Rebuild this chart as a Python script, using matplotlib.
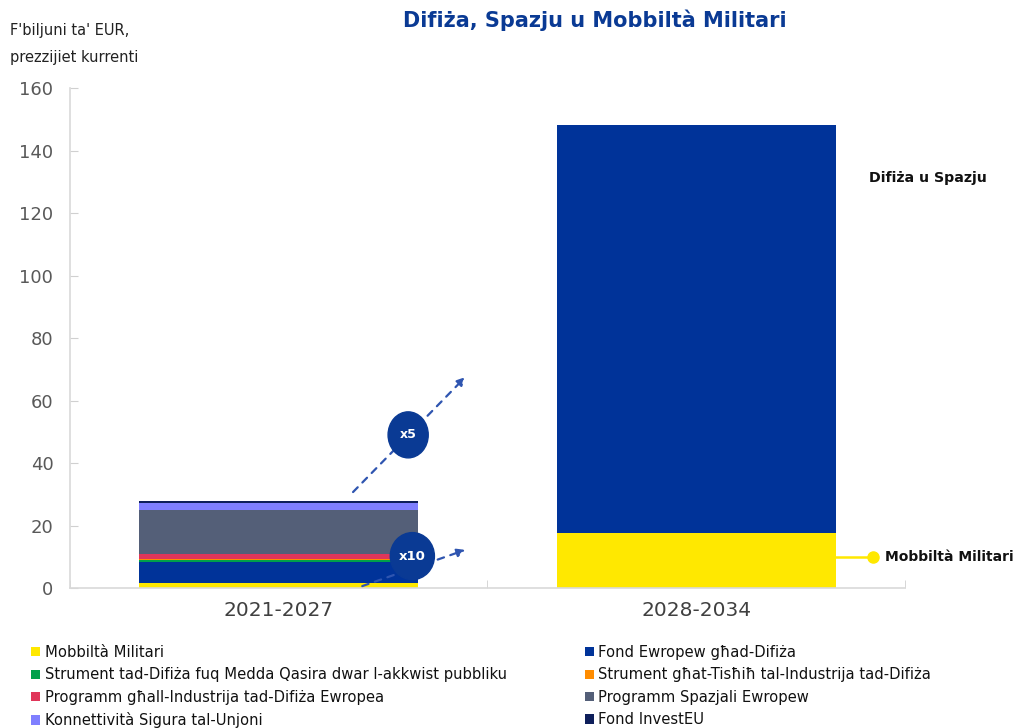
import matplotlib
matplotlib.use("Agg")
import matplotlib.pyplot as plt
from matplotlib.patches import Patch, Ellipse
import numpy as np

# ---------------- data ----------------
periods = ["2021-2027", "2028-2034"]
series_names = [
    "Mobbiltà Militari",
    "Fond Ewropew għad-Difiża",
    "Strument tad-Difiża fuq Medda Qasira dwar l-akkwist pubbliku",
    "Strument għat-Tisħiħ tal-Industrija tad-Difiża",
    "Programm għall-Industrija tad-Difiża Ewropea",
    "Programm Spazjali Ewropew",
    "Konnettività Sigura tal-Unjoni",
    "Fond InvestEU",
]
mobbilta = [1.7, 17.6]
fond_ewropew = [6.8, 130.7]
strument_qasira = [0.5, 0.0]
strument_tishih = [0.5, 0.0]
programm_industrija = [1.4, 0.0]
programm_spazjali = [14.3, 0.0]
konnettivita = [2.0, 0.0]
fond_investeu = [0.6, 0.0]
series_values = [mobbilta, fond_ewropew, strument_qasira, strument_tishih,
                 programm_industrija, programm_spazjali, konnettivita, fond_investeu]
colors = ["#FFE800", "#003399", "#00A04B", "#FF8C00", "#E0365A",
          "#545F78", "#7F7FFF", "#0E1F5B"]
yticks = [0, 20, 40, 60, 80, 100, 120, 140, 160]

# ---------------- figure ----------------
fig = plt.figure(figsize=(10.16, 7.28), dpi=100)
ax = fig.add_axes([0.0689, 0.1919, 0.8218, 0.6868])

x = np.arange(len(periods))
bottom = np.zeros(len(periods))
for vals, col in zip(series_values, colors):
    ax.bar(x, vals, width=0.668, bottom=bottom, color=col, linewidth=0)
    bottom += np.array(vals)

ax.set_xlim(-0.5, 1.5)
ax.set_ylim(0, 160)
ax.set_yticks(yticks)
ax.set_xticks(x)
ax.set_xticklabels(periods, fontsize=14.5, color="#404040")
ax.set_xticks([-0.5, 0.5, 1.5], minor=True)
ax.tick_params(axis="x", which="major", length=0, pad=9)
ax.tick_params(axis="x", which="minor", direction="in", length=6, color="#D0D0D0")
ax.tick_params(axis="y", direction="in", length=6, color="#D0D0D0",
               labelsize=13, labelcolor="#595959", pad=12)
for s in ["top", "right"]:
    ax.spines[s].set_visible(False)
for s in ["left", "bottom"]:
    ax.spines[s].set_color("#D9D9D9")
    ax.spines[s].set_linewidth(1.2)

# ---------------- annotations ----------------
arrow_col = "#2F55B0"
circ_col = "#0A3A94"
ax.annotate("", xy=(0.447, 67.6), xytext=(0.178, 30.8),
            arrowprops=dict(arrowstyle="-|>", color=arrow_col, lw=1.6,
                            linestyle=(0, (3, 3)), mutation_scale=12,
                            shrinkA=0, shrinkB=0))
ax.annotate("", xy=(0.447, 12.3), xytext=(0.2, 0.7),
            arrowprops=dict(arrowstyle="-|>", color=arrow_col, lw=1.6,
                            linestyle=(0, (3, 3)), mutation_scale=12,
                            shrinkA=0, shrinkB=0))
px_x = 1 / 416.0
px_y = 1 / 3.125
ax.add_patch(Ellipse((0.31, 49.1), 40 * px_x, 46 * px_y, color=circ_col, zorder=5))
ax.text(0.31, 49.1, "x5", ha="center", va="center", color="white",
        fontsize=9, fontweight="bold", zorder=6)
ax.add_patch(Ellipse((0.32, 10.3), 44 * px_x, 47 * px_y, color=circ_col, zorder=5))
ax.text(0.32, 10.3, "x10", ha="center", va="center", color="white",
        fontsize=9.5, fontweight="bold", zorder=6)

ax.text(1.413, 131.3, "Difiża u Spazju", ha="left", va="center",
        fontsize=10.2, fontweight="bold", color="#111111")
ax.plot([1.334, 1.423], [10.0, 10.0], color="#FFE800", lw=1.8, clip_on=False)
ax.plot([1.423], [10.0], "o", color="#FFE800", ms=8, clip_on=False)
ax.text(1.452, 10.0, "Mobbiltà Militari", ha="left", va="center",
        fontsize=10.0, fontweight="bold", color="#111111", clip_on=False)

# ---------------- titles ----------------
fig.text(0.5856, 0.972, "Difiża, Spazju u Mobbiltà Militari", ha="center",
         va="center", fontsize=15, fontweight="bold", color="#0A3A94")
fig.text(0.010, 0.968, "F'biljuni ta' EUR,\nprezzijiet kurrenti", ha="left",
         va="top", fontsize=10.5, color="#222222", linespacing=1.95)

# ---------------- legend ----------------
handles = [Patch(facecolor=c, edgecolor="none") for c in colors]
col1 = [0, 2, 4, 6]
col2 = [1, 3, 5, 7]
leg_kw = dict(frameon=False, fontsize=10.6, handlelength=0.6, handleheight=0.6,
              handletextpad=0.3, labelspacing=0.5, borderaxespad=0, borderpad=0)
l1 = fig.legend([handles[i] for i in col1], [series_names[i] for i in col1],
                loc="upper left", bbox_to_anchor=(0.031, 0.114), **leg_kw)
l2 = fig.legend([handles[i] for i in col2], [series_names[i] for i in col2],
                loc="upper left", bbox_to_anchor=(0.576, 0.114), **leg_kw)
for leg in (l1, l2):
    for t in leg.get_texts():
        t.set_color("#111111")

fig.savefig("out.png", dpi=100)
